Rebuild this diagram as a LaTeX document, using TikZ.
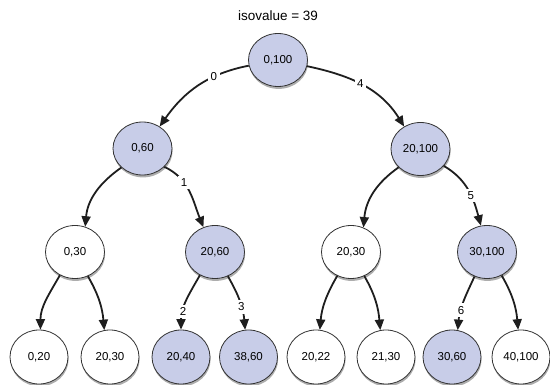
\documentclass[tikz,border=0pt]{standalone}
\usepackage{fontspec}
\setmainfont{Liberation Sans}
\usetikzlibrary{shapes.geometric,arrows.meta,shadows}
\definecolor{lav}{RGB}{200,205,232}
\definecolor{edgecol}{RGB}{30,30,30}
\tikzset{
  tnode/.style={ellipse,draw=black!80,line width=0.8pt,minimum width=59pt,minimum height=53pt,inner sep=0pt,
    font=\fontsize{11.5}{13}\selectfont,
    drop shadow={shadow xshift=0.6pt,shadow yshift=-2.4pt,opacity=0.32,fill=black}},
  hit/.style={tnode,fill=lav},
  miss/.style={tnode,fill=white},
  leafhit/.style={hit,minimum width=58pt,minimum height=54pt},
  leafmiss/.style={miss,minimum width=58pt,minimum height=54pt},
  conn/.style={draw=edgecol,line width=1.8pt,-{Triangle[length=10.5pt,width=9pt]}},
  lbl/.style={fill=white,inner sep=2.5pt,font=\fontsize{11.5}{13}\selectfont,text=black}
}
\begin{document}
\begin{tikzpicture}[x=1pt,y=-1pt]
\useasboundingbox (0,0) rectangle (550,385);
\node[font=\fontsize{13.5}{15}\selectfont] (title) at (278,16) {isovalue = 39};
\node[hit] (root) at (278,60) {0,100};
\node[hit] (A) at (142.5,148.5) {0,60};
\node[hit] (B) at (420.5,149) {20,100};
\node[miss] (C) at (75,252) {0,30};
\node[hit] (D) at (215,252) {20,60};
\node[miss] (E) at (351,252) {20,30};
\node[hit] (F) at (487,252) {30,100};
\node[leafmiss] (b1) at (39,357) {0,20};
\node[leafmiss] (b2) at (110,357) {20,30};
\node[leafhit] (b3) at (181,357) {20,40};
\node[leafhit] (b4) at (248.5,357) {38,60};
\node[leafmiss] (b5) at (316,357) {20,22};
\node[leafmiss] (b6) at (386,357) {21,30};
\node[leafhit] (b7) at (452,357) {30,60};
\node[leafmiss] (b8) at (521,357) {40,100};

\draw[conn] (root.191) to[out=191,in=55] node[lbl,pos=0.32]{0} (A.52);
\draw[conn] (root.348) to[out=348,in=122] node[lbl,pos=0.47]{4} (B.126);
\draw[conn] (A.222) to[out=215,in=85] (C.68);
\draw[conn] (A.320) to[out=335,in=112] node[lbl,pos=0.35]{1} (D.115);
\draw[conn] (B.220) to[out=215,in=85] (E.63);
\draw[conn] (B.324) to[out=330,in=105] node[lbl,pos=0.57]{5} (F.103);
\draw[conn] (C.237) to[out=240,in=90] (b1.87);
\draw[conn] (C.298) to[out=300,in=95] (b2.102);
\draw[conn] (D.237) to[out=240,in=90] node[lbl,pos=0.7]{2} (b3.90);
\draw[conn] (D.298) to[out=300,in=95] node[lbl,pos=0.6]{3} (b4.97);
\draw[conn] (E.240) to[out=240,in=85] (b5.82);
\draw[conn] (E.299) to[out=300,in=95] (b6.102);
\draw[conn] (F.243) to[out=245,in=85] node[lbl,pos=0.65]{6} (b7.78);
\draw[conn] (F.302) to[out=300,in=95] (b8.96);
\end{tikzpicture}
\end{document}
